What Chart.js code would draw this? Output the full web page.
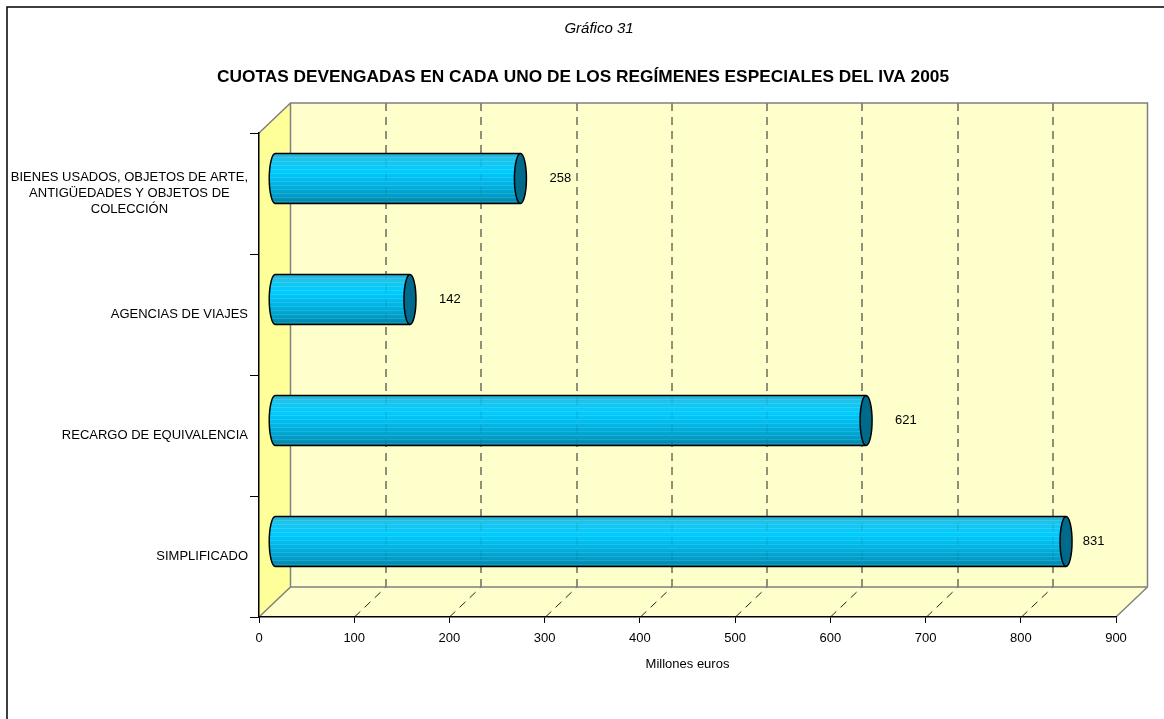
<!DOCTYPE html>
<html>
<head>
<meta charset="utf-8">
<script src="https://cdn.jsdelivr.net/npm/chart.js@4/dist/chart.umd.min.js"></script>
<style>
  html, body { margin: 0; padding: 0; background: #fff; }
  canvas { display: block; }
</style>
</head>
<body>
<canvas id="chart" width="1164" height="719"></canvas>
<script>
// --- chart data ---
const categories = [
    ['BIENES USADOS, OBJETOS DE ARTE,', 'ANTIGÜEDADES Y OBJETOS DE', 'COLECCIÓN'],
    ['AGENCIAS DE VIAJES'],
    ['RECARGO DE EQUIVALENCIA'],
    ['SIMPLIFICADO']
];
const cuotas = [258, 142, 621, 831];
const axisMin = 0;
const axisMax = 900;
const axisStep = 100;
const chartNumber = 'Gráfico 31';
const chartTitle = 'CUOTAS DEVENGADAS EN CADA UNO DE LOS REGÍMENES ESPECIALES DEL IVA 2005';
const axisTitle = 'Millones euros';

const FONT = 'Arial, "Liberation Sans", sans-serif';
const DEPTH_X = 31.5;   // 3D depth offset of the back wall
const DEPTH_Y = -30;

// Walls, floor, dashed gridlines and headings (drawn under the axes)
const wallsPlugin = {
    id: 'walls',
    beforeDraw(chart) {
        const { ctx, chartArea: a, scales: { x } } = chart;
        const L = a.left, R = a.right, T = a.top, B = a.bottom;
        const dx = DEPTH_X, dy = DEPTH_Y;
        ctx.save();

        // outer frame
        ctx.strokeStyle = '#000';
        ctx.lineWidth = 1.5;
        ctx.beginPath();
        ctx.moveTo(7, 719);
        ctx.lineTo(7, 7);
        ctx.lineTo(1164, 7);
        ctx.stroke();

        // headings
        ctx.fillStyle = '#000';
        ctx.textAlign = 'center';
        ctx.textBaseline = 'middle';
        ctx.font = 'italic 15px ' + FONT;
        ctx.fillText(chartNumber, 599, 29);
        ctx.font = 'bold 17.3px ' + FONT;
        ctx.fillText(chartTitle, 583, 77);

        // back wall
        ctx.fillStyle = '#FFFFCC';
        ctx.fillRect(L + dx, T + dy, R - L, B - T);
        // floor
        ctx.beginPath();
        ctx.moveTo(L, B);
        ctx.lineTo(R, B);
        ctx.lineTo(R + dx, B + dy);
        ctx.lineTo(L + dx, B + dy);
        ctx.closePath();
        ctx.fill();
        // left wall
        ctx.fillStyle = '#FFFF99';
        ctx.beginPath();
        ctx.moveTo(L, T);
        ctx.lineTo(L + dx, T + dy);
        ctx.lineTo(L + dx, B + dy);
        ctx.lineTo(L, B);
        ctx.closePath();
        ctx.fill();

        // dashed gridlines on back wall and floor
        ctx.strokeStyle = '#222';
        ctx.lineWidth = 1;
        ctx.setLineDash([8, 6]);
        x.ticks.forEach(t => {
            if (t.value <= axisMin || t.value >= axisMax) return;
            const px = Math.round(x.getPixelForValue(t.value)) + 0.5;
            ctx.beginPath();
            ctx.moveTo(px + dx, T + dy);
            ctx.lineTo(px + dx, B + dy);
            ctx.stroke();
            ctx.beginPath();
            ctx.moveTo(px, B);
            ctx.lineTo(px + dx, B + dy);
            ctx.stroke();
        });
        ctx.setLineDash([]);

        // gray edges
        ctx.strokeStyle = '#808080';
        ctx.lineWidth = 1.5;
        ctx.beginPath();
        ctx.moveTo(L, T);
        ctx.lineTo(L + dx, T + dy);
        ctx.lineTo(R + dx, T + dy);
        ctx.lineTo(R + dx, B + dy);
        ctx.lineTo(R, B);
        ctx.moveTo(L, B);
        ctx.lineTo(L + dx, B + dy);
        ctx.lineTo(R + dx, B + dy);
        ctx.moveTo(L + dx, T + dy);
        ctx.lineTo(L + dx, B + dy);
        ctx.stroke();
        ctx.restore();
    }
};

// Cylinders, value labels and category labels
const cylinderPlugin = {
    id: 'cylinders',
    afterDatasetsDraw(chart) {
        const { ctx, chartArea: a, scales: { x } } = chart;
        const meta = chart.getDatasetMeta(0);
        const ox = DEPTH_X / 2, oy = DEPTH_Y / 2;
        ctx.save();
        meta.data.forEach((bar, i) => {
            const x0 = bar.base + ox, x1 = bar.x + ox;
            const cy = bar.y + oy, h = bar.height / 2, rx = 6;

            const g = ctx.createLinearGradient(0, cy - h, 0, cy + h);
            g.addColorStop(0, '#2AB0D4');
            g.addColorStop(0.12, '#1CC4EC');
            g.addColorStop(0.35, '#00CCFF');
            g.addColorStop(0.6, '#00B6E6');
            g.addColorStop(0.85, '#009CC8');
            g.addColorStop(1, '#00819F');

            // body
            ctx.beginPath();
            ctx.moveTo(x1, cy - h);
            ctx.lineTo(x0, cy - h);
            ctx.ellipse(x0, cy, rx, h, 0, -Math.PI / 2, Math.PI / 2, true);
            ctx.lineTo(x1, cy + h);
            ctx.closePath();
            ctx.fillStyle = g;
            ctx.fill();

            // faint horizontal stripes
            ctx.save();
            ctx.clip();
            ctx.strokeStyle = 'rgba(255,255,255,0.12)';
            ctx.lineWidth = 1;
            for (let sy = cy - h + 3; sy < cy + h; sy += 4) {
                ctx.beginPath();
                ctx.moveTo(x0 - rx, Math.round(sy) + 0.5);
                ctx.lineTo(x1, Math.round(sy) + 0.5);
                ctx.stroke();
            }
            // back wall gridlines faintly visible through the bar
            ctx.strokeStyle = 'rgba(0,0,0,0.12)';
            ctx.setLineDash([8, 6]);
            x.ticks.forEach(t => {
                if (t.value <= axisMin || t.value >= axisMax) return;
                const px = Math.round(x.getPixelForValue(t.value)) + 0.5 + DEPTH_X;
                ctx.beginPath();
                ctx.moveTo(px, a.top + DEPTH_Y);
                ctx.lineTo(px, a.bottom + DEPTH_Y);
                ctx.stroke();
            });
            ctx.setLineDash([]);
            ctx.restore();

            // outline
            ctx.strokeStyle = '#000';
            ctx.lineWidth = 1.5;
            ctx.beginPath();
            ctx.moveTo(x1, cy - h);
            ctx.lineTo(x0, cy - h);
            ctx.ellipse(x0, cy, rx, h, 0, -Math.PI / 2, Math.PI / 2, true);
            ctx.lineTo(x1, cy + h);
            ctx.stroke();

            // end cap
            ctx.beginPath();
            ctx.ellipse(x1, cy, rx, h, 0, 0, Math.PI * 2);
            ctx.fillStyle = '#006A8A';
            ctx.fill();
            ctx.stroke();

            // value label
            ctx.font = '13px ' + FONT;
            ctx.fillStyle = '#000';
            ctx.textAlign = 'left';
            ctx.textBaseline = 'middle';
            const txt = String(cuotas[i]);
            const w = ctx.measureText(txt).width;
            const maxRight = a.right + DEPTH_X - 43;
            let lx = x1 + 29;
            if (lx + w > maxRight) lx = maxRight - w;
            ctx.fillText(txt, lx, cy);
        });
        ctx.restore();
    },
    afterDraw(chart) {
        const { ctx, scales: { y } } = chart;
        ctx.save();
        ctx.font = '13px ' + FONT;
        ctx.fillStyle = '#000';
        ctx.textAlign = 'center';
        ctx.textBaseline = 'middle';
        const lh = 16;
        categories.forEach((lines, i) => {
            const cy = y.getPixelForTick(i);
            const widest = Math.max(...lines.map(s => ctx.measureText(s).width));
            const cx = 248 - widest / 2;
            lines.forEach((s, j) => {
                ctx.fillText(s, cx, cy - (lines.length - 1) * lh / 2 + j * lh);
            });
        });
        ctx.restore();
    }
};

new Chart(document.getElementById('chart'), {
    type: 'bar',
    data: {
        labels: categories,
        datasets: [{
            data: cuotas,
            backgroundColor: 'transparent',
            borderWidth: 0,
            barThickness: 50
        }]
    },
    options: {
        indexAxis: 'y',
        responsive: false,
        animation: false,
        layout: { padding: { top: 133, right: 48, bottom: 0, left: 0 } },
        plugins: {
            legend: { display: false },
            tooltip: { enabled: false }
        },
        scales: {
            x: {
                min: axisMin,
                max: axisMax,
                afterFit: s => { s.height = 102; },
                ticks: {
                    stepSize: axisStep,
                    color: '#000',
                    padding: 8,
                    font: { family: FONT, size: 13 }
                },
                grid: {
                    drawOnChartArea: false,
                    drawTicks: true,
                    tickLength: 6,
                    color: '#000'
                },
                border: { display: true, color: '#000', width: 1.5 },
                title: {
                    display: true,
                    text: axisTitle,
                    color: '#000',
                    font: { family: FONT, size: 13 },
                    padding: { top: 4, bottom: 47 }
                }
            },
            y: {
                afterFit: s => { s.width = 259; },
                ticks: { display: false },
                grid: {
                    offset: true,
                    drawOnChartArea: false,
                    drawTicks: true,
                    tickLength: 9,
                    color: '#000'
                },
                border: { display: true, color: '#000', width: 1.5 }
            }
        }
    },
    plugins: [wallsPlugin, cylinderPlugin]
});
</script>
</body>
</html>
